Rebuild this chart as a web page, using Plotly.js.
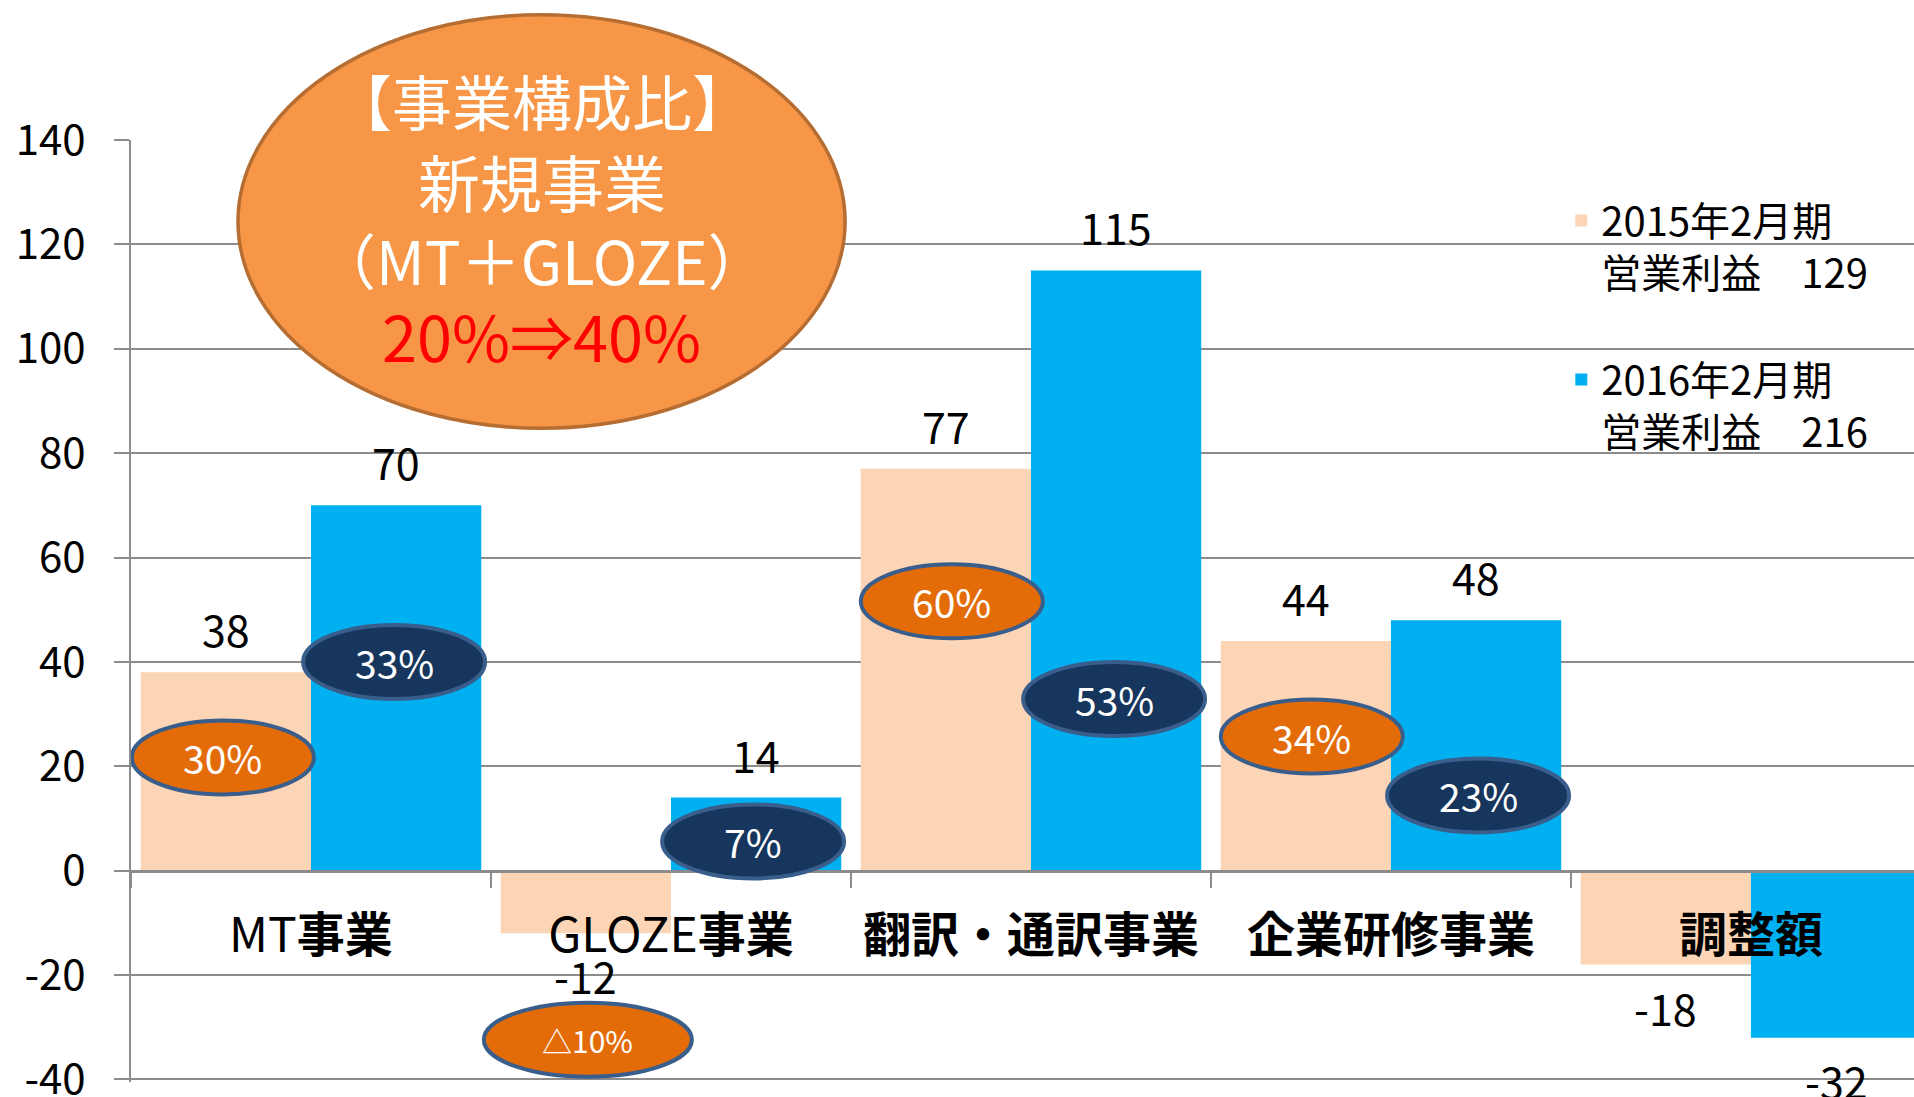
<!DOCTYPE html>
<html><head><meta charset="utf-8">
<script src="https://cdn.plot.ly/plotly-3.0.1.min.js"></script>
<style>html,body{margin:0;padding:0;background:#fff}#chart{width:1914px;height:1097px}</style>
</head><body><div id="chart"></div>
<script>
// ---- data ----
const categories = ['MT事業', 'GLOZE事業', '翻訳・通訳事業', '企業研修事業', '調整額'];
const fy2015 = [38, -12, 77, 44, -18];
const fy2016 = [70, 14, 115, 48, -32];
const seriesNames = ['2015年2月期<br>営業利益　129', '2016年2月期<br>営業利益　216'];
const share2015 = ['30%', '△10%', '60%', '34%', null];
const share2016 = ['33%', '7%', '53%', '23%', null];
const yTicks = [-40, -20, 0, 20, 40, 60, 80, 100, 120, 140];
const calloutTitle = ['【事業構成比】', '新規事業', '（MT＋GLOZE）'];
const calloutHighlight = '20%⇒40%';

// ---- layout placement of the share badges (value level on y axis, pixel nudge) ----
const badgeLevel2015 = [21.7, -32.4, 51.6, 25.7, null];
const badgeLevel2016 = [40, 5.6, 32.9, 14.4, null];
const badgeNudge2015 = [-3, 2, 6, 6, 0];
const badgeNudge2016 = [-2, -3, -2, 2, 0];

const FONT = '"Noto Sans CJK JP", "Noto Sans", sans-serif';
const C2015 = '#FBD5B5', C2016 = '#00B0F0';
const GRID = '#8c8c8c';
const BARGAP = 0.054;
const HALF = (1 - BARGAP) / 4;
const YMIN = -40.5, YMAX = 140;

const tickText = categories.map(c => c.replace(/([^\x00-\x7F]+)/g, '<b>$1</b>'));

const traces = [
  {type: 'bar', x: categories, y: fy2015, name: seriesNames[0], marker: {color: C2015}, legendgroup: 'a', hoverinfo: 'y'},
  {type: 'bar', x: categories, y: fy2016, name: seriesNames[1], marker: {color: C2016}, legendgroup: 'b', hoverinfo: 'y'}
];

const annotations = [];
const shapes = [];

// value labels
[[fy2015, -HALF], [fy2016, HALF]].forEach(([vals, off]) => {
  vals.forEach((v, i) => {
    annotations.push({
      xref: 'x', yref: 'y', x: i + off, y: v, text: String(v), showarrow: false,
      xanchor: 'center', yanchor: v >= 0 ? 'bottom' : 'top', yshift: v >= 0 ? 11 : -9,
      font: {family: FONT, size: 43, color: '#000'}
    });
  });
});

// share badges
[[share2015, badgeLevel2015, badgeNudge2015, -HALF, '#E36C09'],
 [share2016, badgeLevel2016, badgeNudge2016, HALF, '#17365D']].forEach(([labs, lv, nd, off, fill]) => {
  labs.forEach((t, i) => {
    if (t === null) return;
    const small = t.indexOf('△') === 0;
    const w = small ? 104 : 91, h = 37;
    shapes.push({
      type: 'circle', layer: 'above', xref: 'x', yref: 'y',
      xsizemode: 'pixel', ysizemode: 'pixel', xanchor: i + off, yanchor: lv[i],
      x0: nd[i] - w, x1: nd[i] + w, y0: -h, y1: h,
      fillcolor: fill, line: {color: '#3A5E8C', width: 4}
    });
    annotations.push({
      xref: 'x', yref: 'y', x: i + off, y: lv[i], xshift: nd[i], text: t, showarrow: false,
      xanchor: 'center', yanchor: 'middle',
      font: {family: FONT, size: small ? 30 : 39, color: '#fff'}
    });
  });
});

// big callout ellipse
shapes.push({
  type: 'circle', layer: 'above', xref: 'paper', yref: 'paper',
  x0: 0.060, x1: 0.4005, y0: 0.694, y1: 1.133,
  fillcolor: '#F79646', line: {color: '#B66D31', width: 3.5}
});
const lineYs = [1.043, 0.956, 0.874];
const lineSizes = [60, 62, 60];
calloutTitle.forEach((t, k) => {
  annotations.push({xref: 'paper', yref: 'paper', x: 0.2305, y: lineYs[k], text: t, showarrow: false,
    xanchor: 'center', yanchor: 'middle',
    font: {family: FONT, size: lineSizes[k], color: '#fff'}});
});
annotations.push({xref: 'paper', yref: 'paper', x: 0.2305, y: 0.793, text: calloutHighlight, showarrow: false,
  xanchor: 'center', yanchor: 'middle',
  font: {family: FONT, size: 63, color: '#FF0000'}});

const layout = {
  width: 1914, height: 1097,
  margin: {l: 131, r: 0, t: 140, b: 15, pad: 0},
  paper_bgcolor: '#fff', plot_bgcolor: '#fff',
  font: {family: FONT, color: '#000'},
  barmode: 'group', bargap: BARGAP, bargroupgap: 0,
  showlegend: true,
  legend: {x: 0.8022, y: 0.949, xanchor: 'left', yanchor: 'top', valign: 'top',
    font: {family: FONT, size: 40, color: '#000'}, tracegroupgap: 52, bgcolor: 'rgba(0,0,0,0)'},
  xaxis: {
    type: 'category', range: [-0.5, 4.453], anchor: 'free', position: (0 - YMIN) / (YMAX - YMIN),
    showline: true, linecolor: GRID, linewidth: 3,
    ticks: 'outside', tickson: 'boundaries', ticklen: 15, tickwidth: 2, tickcolor: GRID,
    showgrid: false, zeroline: false,
    tickmode: 'array', tickvals: categories, ticktext: tickText,
    tickfont: {family: FONT, size: 48, color: '#000'}, ticklabelstandoff: 22
  },
  yaxis: {
    range: [YMIN, YMAX], tickmode: 'array', tickvals: yTicks, ticktext: yTicks.map(v => String(v)),
    showgrid: true, gridcolor: GRID, gridwidth: 2, zeroline: false,
    showline: true, linecolor: GRID, linewidth: 2,
    ticks: 'outside', ticklen: 15, tickwidth: 2, tickcolor: GRID, ticklabeloverflow: 'allow',
    tickfont: {family: FONT, size: 42, color: '#000'}, ticklabelstandoff: 20
  },
  shapes: shapes,
  annotations: annotations
};

Plotly.newPlot('chart', traces, layout, {displayModeBar: false, staticPlot: true});
</script>
</body></html>
